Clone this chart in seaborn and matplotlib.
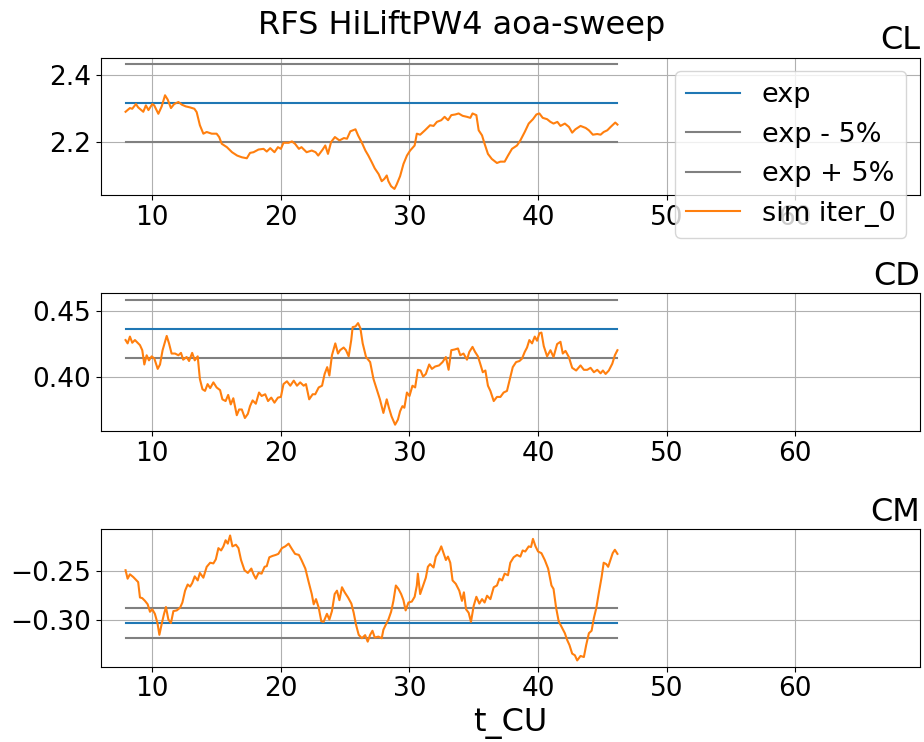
import matplotlib
matplotlib.use("Agg")
import matplotlib.pyplot as plt
import seaborn as sns
import numpy as np

# ---------------- data ----------------
title = "RFS HiLiftPW4 aoa-sweep"
panel_names = ["CL", "CD", "CM"]
legend_labels = ["exp", "exp - 5%", "exp + 5%", "sim iter_0"]
x_ticks = [10, 20, 30, 40, 50, 60]
t_start = 7.92
t_end = 46.17

exp_cl = 2.317
exp_cd = 0.4363
exp_cm = -0.3035

t_cl = [7.92, 8.26, 8.44, 8.73, 8.90, 9.30, 9.50, 9.70, 10.00, 10.15, 10.47, 10.73, 10.99, 11.20,
        11.45, 11.70, 12.03, 12.30, 12.60, 12.93, 13.27, 13.45, 13.70, 13.97, 14.23, 14.62, 15.00,
        15.20, 15.40, 15.80, 16.20, 16.60, 16.96, 17.35, 17.60, 17.87, 18.26, 18.65, 18.90, 19.17,
        19.50, 19.77, 20.00, 20.20, 20.60, 20.86, 21.10, 21.40, 21.60, 22.00, 22.40, 22.70, 22.90,
        23.25, 23.45, 23.66, 23.90, 24.20, 24.55, 24.90, 25.14, 25.40, 25.60, 25.80, 26.00, 26.30,
        26.57, 26.80, 27.07, 27.30, 27.60, 27.84, 28.05, 28.23, 28.36, 28.57, 28.83, 29.00, 29.27,
        29.53, 29.80, 30.05, 30.40, 30.57, 30.83, 31.20, 31.60, 31.87, 32.13, 32.47, 32.73, 33.00,
        33.25, 33.56, 33.82, 34.13, 34.47, 34.73, 34.90, 35.20, 35.38, 35.64, 35.84, 36.10, 36.40,
        36.80, 37.07, 37.40, 37.66, 37.97, 38.36, 38.62, 38.96, 39.27, 39.60, 39.87, 40.10, 40.36,
        40.70, 40.96, 41.20, 41.50, 41.74, 42.08, 42.40, 42.65, 42.90, 43.30, 43.70, 43.95, 44.26,
        44.60, 44.86, 45.10, 45.38, 45.64, 46.00, 46.17]
cl = [2.291, 2.302, 2.300, 2.314, 2.304, 2.291, 2.310, 2.296, 2.314, 2.310, 2.285, 2.307, 2.340, 2.327,
      2.302, 2.314, 2.320, 2.312, 2.307, 2.304, 2.300, 2.290, 2.251, 2.226, 2.231, 2.226, 2.226,
      2.216, 2.196, 2.186, 2.171, 2.161, 2.156, 2.153, 2.169, 2.171, 2.179, 2.181, 2.173, 2.183,
      2.171, 2.186, 2.181, 2.199, 2.199, 2.203, 2.196, 2.181, 2.186, 2.171, 2.176, 2.171, 2.161,
      2.179, 2.191, 2.166, 2.201, 2.216, 2.206, 2.213, 2.211, 2.233, 2.236, 2.239, 2.221, 2.199,
      2.176, 2.161, 2.141, 2.123, 2.106, 2.085, 2.092, 2.102, 2.085, 2.070, 2.062, 2.075, 2.100,
      2.136, 2.161, 2.176, 2.191, 2.226, 2.223, 2.236, 2.251, 2.249, 2.261, 2.266, 2.276, 2.266,
      2.281, 2.283, 2.286, 2.279, 2.276, 2.273, 2.286, 2.281, 2.236, 2.221, 2.196, 2.166, 2.151,
      2.139, 2.143, 2.143, 2.161, 2.181, 2.191, 2.206, 2.231, 2.256, 2.269, 2.283, 2.286, 2.273,
      2.269, 2.261, 2.256, 2.261, 2.249, 2.256, 2.246, 2.229, 2.239, 2.249, 2.243, 2.236, 2.223,
      2.225, 2.223, 2.231, 2.236, 2.246, 2.259, 2.253]

t_cd = [7.92, 8.08, 8.26, 8.44, 8.65, 8.86, 9.04, 9.22, 9.38, 9.56, 9.74, 9.95, 10.16, 10.42, 10.60,
        10.80, 10.99, 11.12, 11.30, 11.50, 11.77, 12.03, 12.23, 12.40, 12.67, 12.86, 13.10, 13.30,
        13.53, 13.70, 13.90, 14.10, 14.30, 14.50, 14.75, 15.00, 15.27, 15.45, 15.70, 15.90, 16.10,
        16.30, 16.57, 16.75, 16.96, 17.20, 17.43, 17.60, 17.80, 18.05, 18.30, 18.50, 18.78, 19.00,
        19.25, 19.50, 19.77, 20.00, 20.20, 20.47, 20.73, 21.00, 21.25, 21.50, 21.77, 21.95, 22.20,
        22.47, 22.67, 22.94, 23.20, 23.40, 23.60, 23.77, 23.97, 24.23, 24.44, 24.60, 24.88, 25.06,
        25.27, 25.47, 25.58, 25.80, 26.00, 26.18, 26.36, 26.62, 26.94, 27.20, 27.45, 27.70, 27.97,
        28.23, 28.40, 28.60, 28.88, 29.10, 29.27, 29.45, 29.60, 29.80, 30.00, 30.23, 30.44, 30.65,
        30.86, 31.06, 31.27, 31.53, 31.74, 32.00, 32.30, 32.57, 32.83, 33.04, 33.25, 33.50, 33.77,
        33.95, 34.20, 34.47, 34.65, 34.90, 35.10, 35.32, 35.50, 35.70, 35.90, 36.10, 36.29, 36.55,
        36.80, 37.07, 37.32, 37.58, 37.84, 38.03, 38.29, 38.55, 38.75, 38.96, 39.14, 39.32, 39.53,
        39.74, 39.92, 40.10, 40.26, 40.44, 40.70, 40.96, 41.20, 41.48, 41.74, 41.92, 42.13, 42.39,
        42.65, 42.96, 43.30, 43.56, 43.82, 44.08, 44.34, 44.60, 44.86, 45.04, 45.25, 45.50, 45.77,
        45.97, 46.17]
cd = [0.4279, 0.4254, 0.4305, 0.4259, 0.4279, 0.4259, 0.4241, 0.4203, 0.4096, 0.4165, 0.4127, 0.4157,
      0.4140, 0.4063, 0.4096, 0.4203, 0.4266, 0.4310, 0.4254, 0.4178, 0.4178, 0.4165, 0.4183, 0.4132,
      0.4152, 0.4122, 0.4183, 0.4127, 0.4157, 0.3987, 0.3911, 0.3898, 0.3949, 0.3919, 0.3962, 0.3924,
      0.3904, 0.3835, 0.3822, 0.3868, 0.3797, 0.3843, 0.3716, 0.3759, 0.3759, 0.3695, 0.3726, 0.3784,
      0.3827, 0.3802, 0.3886, 0.3860, 0.3873, 0.3822, 0.3848, 0.3810, 0.3848, 0.3853, 0.3949, 0.3970,
      0.3937, 0.3975, 0.3937, 0.3962, 0.3937, 0.3949, 0.3835, 0.3873, 0.3873, 0.3924, 0.3937, 0.4025,
      0.4076, 0.4013, 0.4165, 0.4254, 0.4178, 0.4203, 0.4223, 0.4203, 0.4157, 0.4279, 0.4376, 0.4381,
      0.4406, 0.4368, 0.4254, 0.4152, 0.4114, 0.3987, 0.3911, 0.3835, 0.3733, 0.3835, 0.3772, 0.3708,
      0.3645, 0.3683, 0.3746, 0.3784, 0.3772, 0.3886, 0.3860, 0.3937, 0.3924, 0.4056, 0.4051, 0.4005,
      0.4025, 0.4096, 0.4063, 0.4081, 0.4089, 0.4114, 0.4152, 0.4056, 0.4203, 0.4208, 0.4216, 0.4165,
      0.4178, 0.4132, 0.4190, 0.4228, 0.4190, 0.4157, 0.4102, 0.4038, 0.4051, 0.3937, 0.3898, 0.3822,
      0.3853, 0.3853, 0.3886, 0.3898, 0.4000, 0.4076, 0.4114, 0.4122, 0.4140, 0.4190, 0.4223, 0.4279,
      0.4254, 0.4305, 0.4274, 0.4330, 0.4335, 0.4234, 0.4157, 0.4203, 0.4152, 0.4249, 0.4266, 0.4178,
      0.4198, 0.4152, 0.4071, 0.4051, 0.4089, 0.4056, 0.4056, 0.4071, 0.4038, 0.4056, 0.4030, 0.4051,
      0.4025, 0.4051, 0.4102, 0.4165, 0.4203]

t_cm = [7.92, 8.08, 8.26, 8.52, 8.78, 8.90, 9.04, 9.22, 9.43, 9.64, 9.82, 10.00, 10.20, 10.40, 10.55,
        10.73, 10.90, 11.06, 11.25, 11.45, 11.64, 11.90, 12.16, 12.34, 12.55, 12.75, 12.94, 13.10,
        13.30, 13.53, 13.70, 13.97, 14.23, 14.50, 14.75, 14.94, 15.14, 15.35, 15.53, 15.70, 15.87,
        16.05, 16.23, 16.50, 16.70, 16.90, 17.17, 17.43, 17.70, 17.87, 18.05, 18.26, 18.50, 18.73,
        18.90, 19.10, 19.35, 19.60, 19.80, 20.08, 20.34, 20.60, 20.86, 21.10, 21.40, 21.60, 21.90,
        22.16, 22.40, 22.55, 22.73, 22.94, 23.14, 23.32, 23.58, 23.77, 23.97, 24.18, 24.36, 24.55,
        24.75, 24.96, 25.22, 25.48, 25.66, 25.84, 26.05, 26.30, 26.55, 26.75, 26.94, 27.12, 27.30,
        27.58, 27.84, 27.97, 28.16, 28.36, 28.57, 28.75, 28.94, 29.14, 29.35, 29.53, 29.70, 29.92,
        30.18, 30.40, 30.57, 30.65, 30.83, 31.10, 31.27, 31.43, 31.60, 31.87, 32.05, 32.30, 32.47,
        32.65, 32.83, 32.99, 33.17, 33.35, 33.60, 33.87, 34.08, 34.23, 34.40, 34.60, 34.78, 34.99,
        35.20, 35.43, 35.64, 35.84, 36.03, 36.29, 36.55, 36.80, 36.99, 37.20, 37.40, 37.66, 37.84,
        38.10, 38.36, 38.62, 38.80, 39.00, 39.27, 39.45, 39.60, 39.80, 40.00, 40.26, 40.52, 40.78,
        41.04, 41.20, 41.40, 41.60, 41.87, 42.08, 42.26, 42.44, 42.65, 42.86, 43.04, 43.30, 43.56,
        43.74, 43.95, 44.16, 44.34, 44.52, 44.73, 44.94, 45.10, 45.30, 45.45, 45.64, 45.80, 45.97,
        46.17]
cm = [-0.2493, -0.2580, -0.2535, -0.2563, -0.2598, -0.2615, -0.2773, -0.2780, -0.2808, -0.2843,
      -0.2920, -0.2895, -0.2941, -0.3035, -0.3157, -0.3045, -0.2948, -0.2871, -0.3000, -0.3035,
      -0.2913, -0.2906, -0.2878, -0.2825, -0.2703, -0.2640, -0.2661, -0.2626, -0.2556, -0.2598,
      -0.2521, -0.2570, -0.2458, -0.2416, -0.2423, -0.2381, -0.2266, -0.2290, -0.2248, -0.2185,
      -0.2220, -0.2136, -0.2248, -0.2231, -0.2266, -0.2388, -0.2493, -0.2521, -0.2476, -0.2535,
      -0.2580, -0.2521, -0.2528, -0.2458, -0.2451, -0.2360, -0.2346, -0.2336, -0.2325, -0.2266,
      -0.2248, -0.2220, -0.2276, -0.2325, -0.2336, -0.2388, -0.2476, -0.2615, -0.2738, -0.2843,
      -0.2790, -0.2878, -0.3017, -0.3024, -0.2941, -0.3000, -0.2913, -0.2738, -0.2703, -0.2801,
      -0.2668, -0.2720, -0.2773, -0.2836, -0.2930, -0.3052, -0.3157, -0.3192, -0.3160, -0.3227,
      -0.3157, -0.3115, -0.3185, -0.3175, -0.3192, -0.3105, -0.3052, -0.3000, -0.2920, -0.2808,
      -0.2650, -0.2685, -0.2738, -0.2801, -0.2906, -0.2825, -0.2815, -0.2766, -0.2650, -0.2528,
      -0.2738, -0.2633, -0.2570, -0.2458, -0.2430, -0.2465, -0.2353, -0.2301, -0.2248, -0.2318,
      -0.2388, -0.2353, -0.2416, -0.2598, -0.2633, -0.2703, -0.2808, -0.2720, -0.2895, -0.2930,
      -0.3024, -0.2860, -0.2766, -0.2836, -0.2790, -0.2825, -0.2755, -0.2790, -0.2668, -0.2650,
      -0.2580, -0.2598, -0.2528, -0.2545, -0.2416, -0.2360, -0.2336, -0.2353, -0.2290, -0.2301,
      -0.2248, -0.2255, -0.2171, -0.2248, -0.2301, -0.2318, -0.2388, -0.2476, -0.2650, -0.2685,
      -0.2878, -0.3017, -0.3087, -0.3140, -0.3210, -0.3262, -0.3350, -0.3367, -0.3420, -0.3374,
      -0.3385, -0.3262, -0.3140, -0.3115, -0.2983, -0.2885, -0.2720, -0.2563, -0.2416, -0.2430,
      -0.2458, -0.2381, -0.2318, -0.2283, -0.2325]

# ---------------- plot ----------------
BLUE = "#1f77b4"
GRAY = "gray"
ORANGE = "#ff7f0e"
TICK_FS = 19
LEGEND_FS = 19.5
TITLE_FS = 23

fig, axes = plt.subplots(3, 1, figsize=(9.24, 7.42), dpi=100)
fig.subplots_adjust(left=0.1093, right=0.9957, top=0.9222, bottom=0.1015, hspace=0.715)

series = [(t_cl, cl, exp_cl), (t_cd, cd, exp_cd), (t_cm, cm, exp_cm)]
for i, (ax, name, (tt, vals, ex)) in enumerate(zip(axes, panel_names, series)):
    tx = [t_start, t_end]
    sns.lineplot(x=tx, y=[ex, ex], ax=ax, color=BLUE, linewidth=1.5,
                 label=legend_labels[0], legend=False)
    sns.lineplot(x=tx, y=[ex * 0.95, ex * 0.95], ax=ax, color=GRAY, linewidth=1.5,
                 label=legend_labels[1], legend=False)
    sns.lineplot(x=tx, y=[ex * 1.05, ex * 1.05], ax=ax, color=GRAY, linewidth=1.5,
                 label=legend_labels[2], legend=False)
    sns.lineplot(x=tt, y=vals, ax=ax, color=ORANGE, linewidth=1.5,
                 label=legend_labels[3], legend=False, sort=False)
    ax.set_title(name, loc="right", fontsize=TITLE_FS)
    ax.grid(True)
    ax.set_xlim(6.01, 69.7)
    ax.set_xticks(x_ticks)
    ax.tick_params(labelsize=TICK_FS)
    ax.set_ylabel("")
    ax.set_xlabel("")

axes[0].legend(loc="upper right", fontsize=LEGEND_FS)
axes[2].set_xlabel("t_CU", fontsize=TITLE_FS)
fig.suptitle(title, fontsize=TITLE_FS, y=0.986, va="top")

fig.savefig("out.png", dpi=100)
